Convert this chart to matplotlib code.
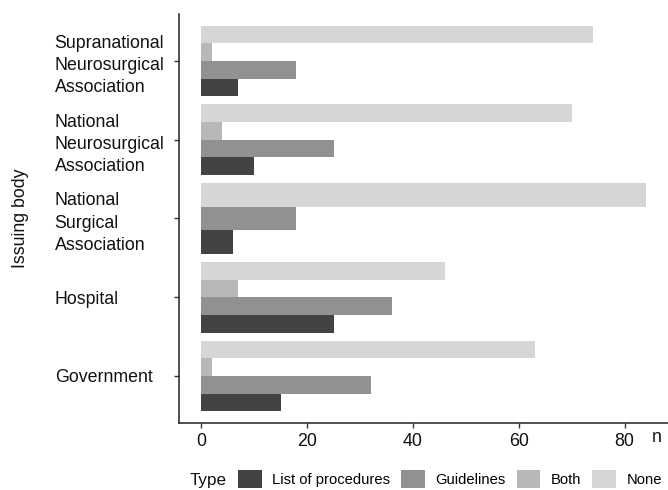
import matplotlib.pyplot as plt
from matplotlib.patches import Patch

plt.rcParams['font.family'] = ['Liberation Sans', 'DejaVu Sans']

# ----------------------
# DATA (counts per issuing body and type)
# ----------------------
bodies = ["Government", "Hospital", "National\nSurgical\nAssociation",
          "National\nNeurosurgical\nAssociation",
          "Supranational\nNeurosurgical\nAssociation"]
types = ["List of procedures", "Guidelines", "Both", "None"]
list_of_procedures = [15, 25, 6, 10, 7]
guidelines = [32, 36, 18, 25, 18]
both = [2, 7, 0, 4, 2]          # 0 = no entry for that body
none = [63, 46, 84, 70, 74]
colors = ["#434343", "#919191", "#b8b8b8", "#d6d6d6"]

series = [list_of_procedures, guidelines, both, none]

fig = plt.figure(figsize=(6.68, 4.9), dpi=100)
ax = fig.add_axes([179 / 668, 1 - 423.25 / 490, 1 - 179 / 668, (423.25 - 13.75) / 490])

# dodge like ggplot: missing bars let the others widen
group_w = 0.9
for i in range(len(bodies)):
    present = [k for k in range(len(types)) if series[k][i] > 0]
    w = group_w / len(present)
    for j, k in enumerate(present):
        y = i - group_w / 2 + w * (j + 0.5)
        ax.barh(y, series[k][i], height=w, color=colors[k], linewidth=0)

xmax = max(max(s) for s in series)
ax.set_xlim(-0.05 * xmax, xmax * 1.05)
ax.set_ylim(-0.6, len(bodies) - 0.4)
ax.set_xticks([0, 20, 40, 60, 80])
ax.set_yticks(range(len(bodies)))
ax.set_yticklabels(bodies, linespacing=1.4)

for side in ["top", "right"]:
    ax.spines[side].set_visible(False)
for side in ["left", "bottom"]:
    ax.spines[side].set_linewidth(1.1)
    ax.spines[side].set_color("#222222")

ax.tick_params(axis="both", length=3.5, width=1, color="#333333",
               labelsize=12.8, labelcolor="#111111")
ax.tick_params(axis="y", pad=86)
for lab in ax.get_yticklabels():
    lab.set_ha("left")

fig.text(21 / 668, 0.5 * (1 - 13.75 / 490 + 1 - 423.25 / 490), "Issuing body",
         rotation=90, ha="center", va="center", fontsize=12.8, color="#111111")
fig.text(657 / 668, 1 - 438 / 490, "n", ha="center", va="center",
         fontsize=12.8, color="#111111")

# ----------------------
# LEGEND
# ----------------------
fig.text(190 / 668, 1 - 480 / 490, "Type", ha="left", va="center",
         fontsize=12.3, color="#111111")
handles = [Patch(facecolor=c, edgecolor="none") for c in colors]
fig.legend(handles, types, loc="center left", bbox_to_anchor=(238 / 668, 1 - 479 / 490),
           ncol=4, frameon=False, fontsize=10.6, borderpad=0, borderaxespad=0,
           handlelength=1.6, handleheight=1.56, handletextpad=0.72,
           columnspacing=0.75)

fig.savefig("out.png", dpi=100)
